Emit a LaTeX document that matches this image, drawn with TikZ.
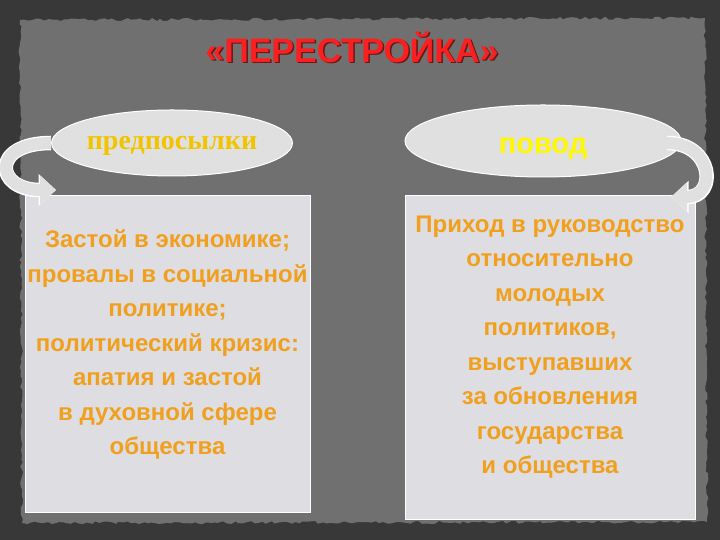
\documentclass[tikz,border=0pt]{standalone}
\usepackage{fontspec}
\setmainfont{Liberation Sans}
\newfontfamily\ovalserif{Liberation Serif}
\usetikzlibrary{shapes.geometric,positioning,arrows.meta,decorations.pathmorphing}
\definecolor{bgdark}{RGB}{56,56,56}
\definecolor{panel}{RGB}{112,112,112}
\definecolor{titlered}{RGB}{250,32,32}
\definecolor{titleshade}{RGB}{105,22,22}
\definecolor{ovalfill}{RGB}{224,224,224}
\definecolor{cardfill}{RGB}{221,221,226}
\definecolor{gold}{RGB}{242,196,0}
\definecolor{lemon}{RGB}{255,248,0}
\definecolor{amber}{RGB}{240,160,30}

\begin{document}
\begin{tikzpicture}[x=1pt,y=1pt]
		\tikzstyle{oval}=[ellipse, fill=ovalfill, draw=white, line width=1pt, inner sep=0pt]
		\tikzstyle{card}=[rectangle, fill=cardfill, draw=white, line width=1pt, inner sep=0pt]
		\tikzstyle{cardtext}=[align=center, text=amber, font=\fontsize{24}{34.5}\selectfont\bfseries, inner sep=0pt]
		\tikzstyle{turn}=[line width=12pt, draw=black!12, -{Triangle[length=16pt,width=28pt]}, preaction={draw=white, line width=14.5pt, -{Triangle[length=17.5pt,width=31pt]}}]
		
		% background sheet
		\useasboundingbox (0,0) rectangle (720,540);
		\fill[bgdark] (0,0) rectangle (720,540);
		\pgfmathsetseed{7}
		\fill[panel, decorate, decoration={random steps, segment length=4pt, amplitude=1.5pt}]
		(20,520) -- (705,522) -- (707,18) -- (22,17) -- cycle;
		
		% title
		\node[text=titleshade, font=\fontsize{34}{40}\selectfont\bfseries] at (353.5,491.5) {«ПЕРЕСТРОЙКА»};
		\node[text=titlered, font=\fontsize{34}{40}\selectfont\bfseries] (title) at (352,493) {«ПЕРЕСТРОЙКА»};
		
		% ovals
		\node[oval, minimum width=240pt, minimum height=66pt, text=gold, font=\fontsize{28}{32}\selectfont\ovalserif\bfseries] (pre) at (172,397) {\raisebox{-7pt}[0pt][0pt]{предпосылки}};
		\node[oval, minimum width=276pt, minimum height=72pt, text=lemon, font=\fontsize{29}{32}\selectfont\bfseries] (pov) at (543,399) {\raisebox{-13pt}[0pt][0pt]{повод}};
		
		% cards
		\node[card, minimum width=285pt, minimum height=317pt] (lcard) at (167.5,185.5) {};
		\node[card, minimum width=290pt, minimum height=324pt] (rcard) at (550,182) {};
		
		\node[cardtext, below=34pt of lcard.north] (ltext) {Застой в экономике;\\провалы в социальной\\политике;\\политический кризис:\\апатия и застой\\в духовной сфере\\общества};
		\node[cardtext, below=20pt of rcard.north] (rtext) {Приход в руководство\\относительно\\молодых\\политиков,\\выступавших\\за обновления\\государства\\и общества};
		
		% turning arrows
		\coordinate (lend) at (56,350);
		\coordinate (rbeg) at (667,397);
		\coordinate (rend) at (671,343);
		\path
		(pre.west) edge [turn, out=180, in=180, looseness=3.3] (lend)
		(rbeg) edge [turn, out=0, in=0, looseness=2.2] (rend)
		;
		
\end{tikzpicture}
\end{document}
